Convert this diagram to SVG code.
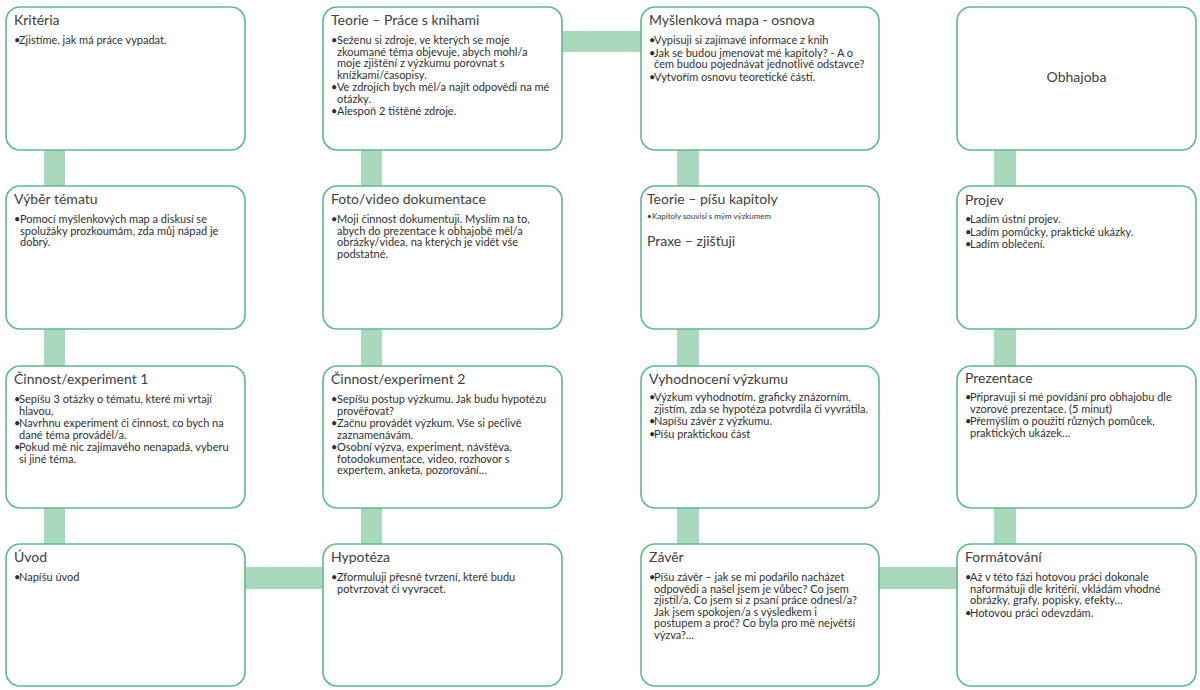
<svg xmlns="http://www.w3.org/2000/svg" width="1200" height="690" viewBox="0 0 1200 690">
<style>
.bg{fill:#ffffff}
.box{fill:#ffffff;stroke:#5dbb8c;stroke-width:1.6}
.bar{fill:#a9d8bd}
.t{font-family:Lato,"Liberation Sans",sans-serif;font-size:14px;font-weight:400;fill:#404040}
.b{font-family:Lato,"Liberation Sans",sans-serif;font-size:11px;fill:#303030}
.s{font-family:Lato,"Liberation Sans",sans-serif;font-size:8px;fill:#333333}
.c{text-anchor:middle}
</style>
<rect class="bg" x="0" y="0" width="1200" height="690"/>
<g id="connectors">
<rect class="bar" x="44" y="145" width="21" height="46"/>
<rect class="bar" x="44" y="324" width="21" height="47"/>
<rect class="bar" x="44" y="503" width="21" height="46"/>
<rect class="bar" x="361" y="145" width="21" height="46"/>
<rect class="bar" x="361" y="324" width="21" height="47"/>
<rect class="bar" x="361" y="503" width="21" height="46"/>
<rect class="bar" x="677" y="145" width="22" height="46"/>
<rect class="bar" x="677" y="324" width="22" height="47"/>
<rect class="bar" x="677" y="503" width="22" height="46"/>
<rect class="bar" x="994" y="145" width="22" height="46"/>
<rect class="bar" x="994" y="324" width="22" height="47"/>
<rect class="bar" x="994" y="503" width="22" height="46"/>
<rect class="bar" x="557" y="31" width="89" height="21"/>
<rect class="bar" x="240" y="567" width="88" height="22"/>
<rect class="bar" x="874" y="567" width="88" height="22"/>
</g>
<g id="kriteria">
<rect class="box" x="6" y="7" width="239" height="143" rx="14"/>
<text class="t" x="14" y="25">Kritéria</text>
<text class="b" x="14" y="44">•</text>
<text class="b" x="19" y="44">Zjistíme, jak má práce vypadat.</text>
</g>
<g id="teorie-prace">
<rect class="box" x="323" y="7" width="239" height="143" rx="14"/>
<text class="t" x="331" y="25">Teorie – Práce s knihami</text>
<text class="b" x="331" y="44">•</text>
<text class="b" x="337" y="44">Seženu si zdroje, ve kterých se moje</text>
<text class="b" x="337" y="55.5">zkoumané téma objevuje, abych mohl/a</text>
<text class="b" x="337" y="67">moje zjištění z výzkumu porovnat s</text>
<text class="b" x="337" y="78.5">knížkami/časopisy.</text>
<text class="b" x="331" y="91">•</text>
<text class="b" x="337" y="91">Ve zdrojích bych měl/a najít odpovědi na mé</text>
<text class="b" x="337" y="102.5">otázky.</text>
<text class="b" x="331" y="115">•</text>
<text class="b" x="337" y="115">Alespoň 2 tištěné zdroje.</text>
</g>
<g id="myslenkova-mapa">
<rect class="box" x="641" y="7" width="238" height="143" rx="14"/>
<text class="t" x="649" y="25">Myšlenková mapa - osnova</text>
<text class="b" x="649" y="44">•</text>
<text class="b" x="654" y="44">Vypisuji si zajímavé informace z knih</text>
<text class="b" x="649" y="56.5">•</text>
<text class="b" x="654" y="56.5">Jak se budou jmenovat mé kapitoly? - A o</text>
<text class="b" x="654" y="68">čem budou pojednávat jednotlivé odstavce?</text>
<text class="b" x="649" y="80.5">•</text>
<text class="b" x="654" y="80.5">Vytvořím osnovu teoretické části.</text>
</g>
<g id="obhajoba">
<rect class="box" x="957" y="7" width="239" height="143" rx="14"/>
<text class="t c" x="1076.5" y="82">Obhajoba</text>
</g>
<g id="vyber-tematu">
<rect class="box" x="6" y="186" width="239" height="143" rx="14"/>
<text class="t" x="14" y="204">Výběr tématu</text>
<text class="b" x="14" y="223">•</text>
<text class="b" x="20" y="223">Pomocí myšlenkových map a diskusí se</text>
<text class="b" x="20" y="234.5">spolužáky prozkoumám, zda můj nápad je</text>
<text class="b" x="20" y="246">dobrý.</text>
</g>
<g id="foto-video">
<rect class="box" x="323" y="186" width="239" height="143" rx="14"/>
<text class="t" x="331" y="204">Foto/video dokumentace</text>
<text class="b" x="331" y="223">•</text>
<text class="b" x="337" y="223">Moji činnost dokumentuji. Myslím na to,</text>
<text class="b" x="337" y="234.5">abych do prezentace k obhajobě měl/a</text>
<text class="b" x="337" y="246">obrázky/videa, na kterých je vidět vše</text>
<text class="b" x="337" y="257.5">podstatné.</text>
</g>
<g id="teorie-pisu">
<rect class="box" x="641" y="186" width="238" height="143" rx="14"/>
<text class="t" x="647" y="204">Teorie – píšu kapitoly</text>
<text class="s" x="647" y="219">•</text>
<text class="s" x="652" y="219">Kapitoly souvisí s mým výzkumem</text>
<text class="t" x="647" y="246">Praxe – zjišťuji</text>
</g>
<g id="projev">
<rect class="box" x="957" y="186" width="239" height="143" rx="14"/>
<text class="t" x="965" y="205">Projev</text>
<text class="b" x="965" y="223">•</text>
<text class="b" x="970" y="223">Ladím ústní projev.</text>
<text class="b" x="965" y="235.5">•</text>
<text class="b" x="970" y="235.5">Ladím pomůcky, praktické ukázky.</text>
<text class="b" x="965" y="248">•</text>
<text class="b" x="970" y="248">Ladím oblečení.</text>
</g>
<g id="cinnost-1">
<rect class="box" x="6" y="366" width="239" height="142" rx="14"/>
<text class="t" x="14" y="384">Činnost/experiment 1</text>
<text class="b" x="14" y="403">•</text>
<text class="b" x="19" y="403">Sepíšu 3 otázky o tématu, které mi vrtají</text>
<text class="b" x="19" y="414.5">hlavou,</text>
<text class="b" x="14" y="427">•</text>
<text class="b" x="19" y="427">Navrhnu experiment či činnost, co bych na</text>
<text class="b" x="19" y="438.5">dané téma prováděl/a.</text>
<text class="b" x="14" y="451">•</text>
<text class="b" x="19" y="451">Pokud mě nic zajímavého nenapadá, vyberu</text>
<text class="b" x="19" y="462.5">si jiné téma.</text>
</g>
<g id="cinnost-2">
<rect class="box" x="323" y="366" width="239" height="142" rx="14"/>
<text class="t" x="331" y="384">Činnost/experiment 2</text>
<text class="b" x="331" y="403">•</text>
<text class="b" x="337" y="403">Sepíšu postup výzkumu. Jak budu hypotézu</text>
<text class="b" x="337" y="414.5">prověřovat?</text>
<text class="b" x="331" y="427">•</text>
<text class="b" x="337" y="427">Začnu provádět výzkum. Vše si pečlivě</text>
<text class="b" x="337" y="438.5">zaznamenávám.</text>
<text class="b" x="331" y="451">•</text>
<text class="b" x="337" y="451">Osobní výzva, experiment, návštěva,</text>
<text class="b" x="337" y="462.5">fotodokumentace, video, rozhovor s</text>
<text class="b" x="337" y="474">expertem, anketa, pozorování…</text>
</g>
<g id="vyhodnoceni">
<rect class="box" x="641" y="366" width="238" height="142" rx="14"/>
<text class="t" x="649" y="384">Vyhodnocení výzkumu</text>
<text class="b" x="649" y="401">•</text>
<text class="b" x="654" y="401">Výzkum vyhodnotím, graficky znázorním,</text>
<text class="b" x="654" y="412.5" textLength="214" lengthAdjust="spacingAndGlyphs">zjistím, zda se hypotéza potvrdila či vyvrátila.</text>
<text class="b" x="649" y="425">•</text>
<text class="b" x="654" y="425">Napíšu závěr z výzkumu.</text>
<text class="b" x="649" y="437.5">•</text>
<text class="b" x="654" y="437.5">Píšu praktickou část</text>
</g>
<g id="prezentace">
<rect class="box" x="957" y="366" width="239" height="142" rx="14"/>
<text class="t" x="965" y="383">Prezentace</text>
<text class="b" x="965" y="401">•</text>
<text class="b" x="970" y="401">Připravuji si mé povídání pro obhajobu dle</text>
<text class="b" x="970" y="412.5">vzorové prezentace. (5 minut)</text>
<text class="b" x="965" y="425">•</text>
<text class="b" x="970" y="425">Přemýšlím o použití různých pomůcek,</text>
<text class="b" x="970" y="436.5">praktických ukázek…</text>
</g>
<g id="uvod">
<rect class="box" x="6" y="544" width="239" height="142" rx="14"/>
<text class="t" x="14" y="562">Úvod</text>
<text class="b" x="14" y="581">•</text>
<text class="b" x="19" y="581">Napíšu úvod</text>
</g>
<g id="hypoteza">
<rect class="box" x="323" y="544" width="239" height="142" rx="14"/>
<text class="t" x="331" y="562">Hypotéza</text>
<text class="b" x="331" y="581">•</text>
<text class="b" x="337" y="581">Zformuluji přesně tvrzení, které budu</text>
<text class="b" x="337" y="592.5">potvrzovat či vyvracet.</text>
</g>
<g id="zaver">
<rect class="box" x="641" y="544" width="238" height="142" rx="14"/>
<text class="t" x="649" y="562">Závěr</text>
<text class="b" x="649" y="581">•</text>
<text class="b" x="654" y="581">Píšu závěr – jak se mi podařilo nacházet</text>
<text class="b" x="654" y="592.5">odpovědi a našel jsem je vůbec? Co jsem</text>
<text class="b" x="654" y="604">zjistil/a. Co jsem si z psaní práce odnesl/a?</text>
<text class="b" x="654" y="615.5">Jak jsem spokojen/a s výsledkem i</text>
<text class="b" x="654" y="627">postupem a proč?  Co byla pro mě největší</text>
<text class="b" x="654" y="638.5">výzva?...</text>
</g>
<g id="formatovani">
<rect class="box" x="957" y="544" width="239" height="142" rx="14"/>
<text class="t" x="965" y="562">Formátování</text>
<text class="b" x="965" y="581">•</text>
<text class="b" x="970" y="581">Až v této fázi hotovou práci dokonale</text>
<text class="b" x="970" y="592.5">naformátuji dle kritérií, vkládám vhodné</text>
<text class="b" x="970" y="604">obrázky, grafy, popisky, efekty…</text>
<text class="b" x="965" y="616.5">•</text>
<text class="b" x="970" y="616.5">Hotovou práci odevzdám.</text>
</g>
</svg>
